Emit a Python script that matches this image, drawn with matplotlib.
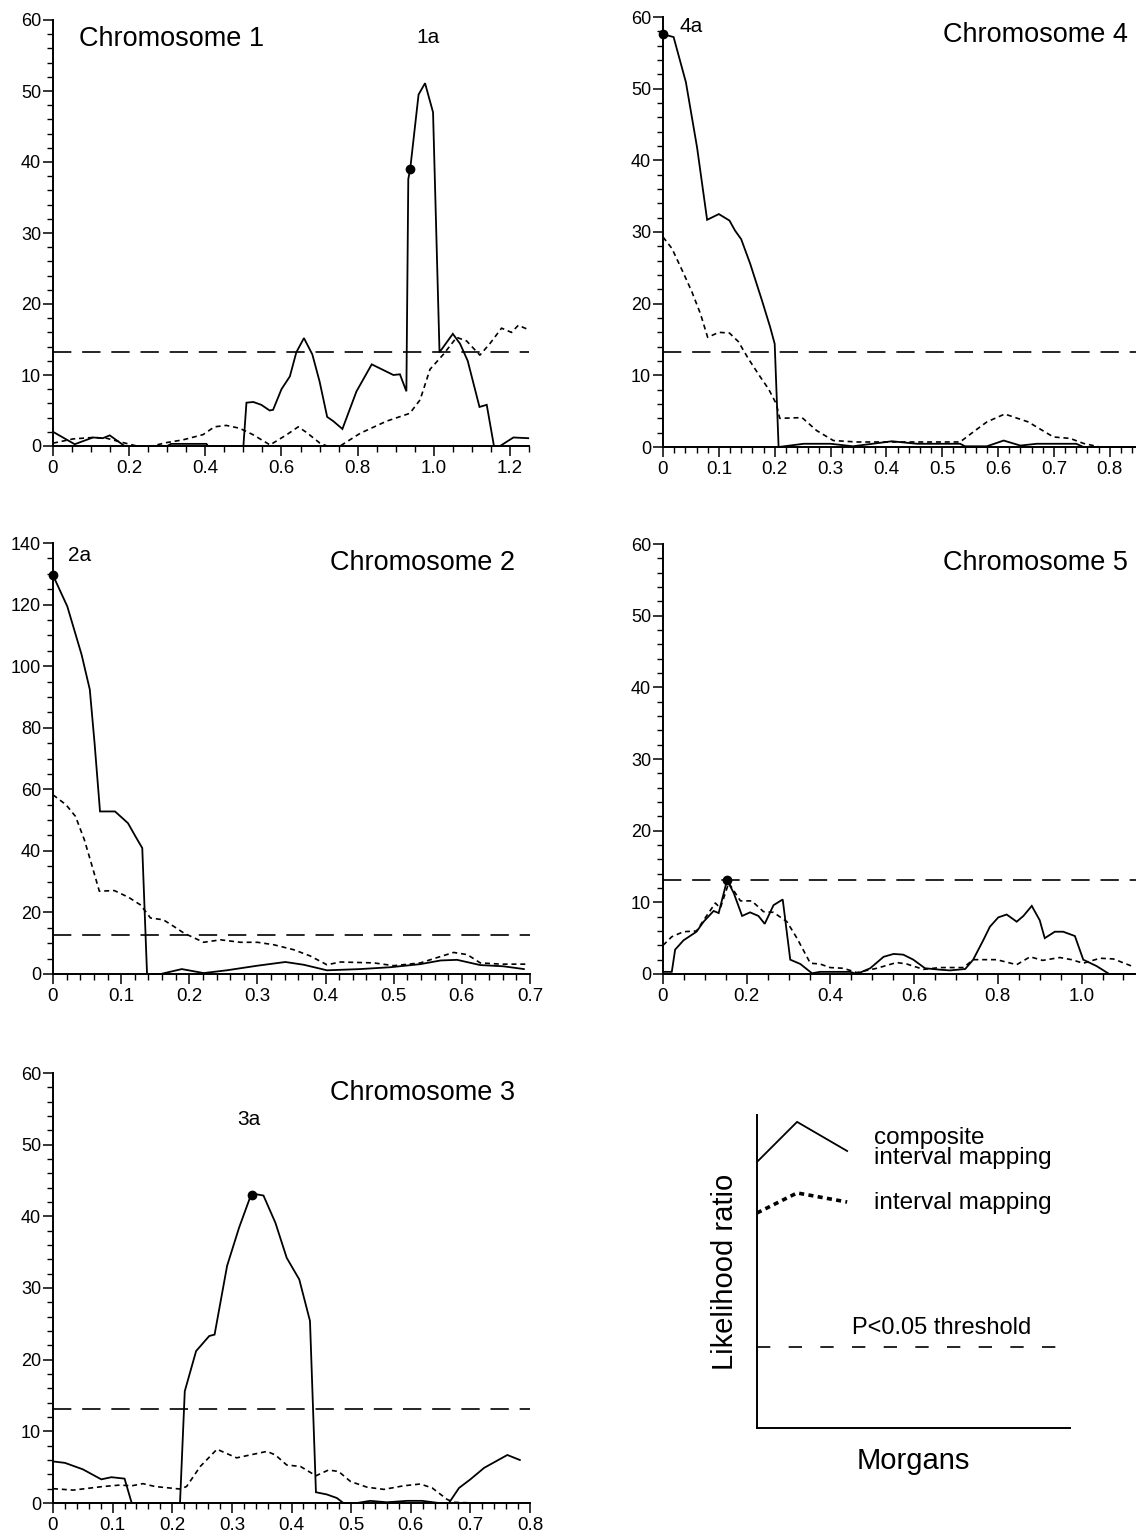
import matplotlib
matplotlib.use("Agg")
import matplotlib.pyplot as plt
from matplotlib.ticker import MultipleLocator, FuncFormatter

plt.rcParams['font.family'] = ['Liberation Sans', 'DejaVu Sans']

# ---- data (Morgans, likelihood ratio) ----
chr1_cim_x = [0, 0.057, 0.105, 0.131, 0.149, 0.188, 0.30, 0.31, 0.403, 0.407, 0.50, 0.508, 0.526,
              0.547, 0.569, 0.578, 0.60, 0.622, 0.639, 0.659, 0.681, 0.70, 0.72, 0.736, 0.76,
              0.797, 0.837, 0.894, 0.911, 0.928, 0.933, 0.938, 0.960, 0.977, 0.998, 1.015, 1.05,
              1.069, 1.089, 1.12, 1.139, 1.158, 1.174, 1.209, 1.248]
chr1_cim_y = [2.0, 0.25, 1.2, 1.1, 1.5, 0, 0, 0.3, 0.3, 0, 0, 6.1, 6.2,
              5.8, 5.0, 5.1, 8.0, 9.8, 13.2, 15.2, 12.9, 9.1, 4.1, 3.5, 2.4,
              7.7, 11.5, 10.0, 10.1, 7.7, 37.6, 39.0, 49.5, 51.1, 47.0, 13.2, 15.8,
              14.4, 12.0, 5.5, 5.8, 0, 0, 1.2, 1.1]
chr1_im_x = [0, 0.053, 0.105, 0.14, 0.175, 0.22, 0.26, 0.30, 0.34, 0.394, 0.424, 0.455, 0.49,
             0.525, 0.57, 0.614, 0.644, 0.666, 0.701, 0.72, 0.754, 0.807, 0.876, 0.937, 0.964,
             0.99, 1.025, 1.06, 1.086, 1.121, 1.147, 1.178, 1.204, 1.222, 1.248]
chr1_im_y = [0.4, 1.0, 1.2, 1.1, 0.6, 0, 0, 0.5, 0.85, 1.6, 2.7, 2.9, 2.5,
             1.6, 0.15, 1.6, 2.7, 1.9, 0.4, 0, 0, 1.8, 3.5, 4.6, 6.5,
             10.8, 12.9, 15.3, 14.8, 12.8, 14.4, 16.6, 16.0, 17.0, 16.4]

chr4_cim_x = [0, 0.019, 0.041, 0.061, 0.079, 0.10, 0.119, 0.129, 0.14, 0.156, 0.177, 0.192, 0.20,
              0.207, 0.252, 0.30, 0.34, 0.41, 0.455, 0.532, 0.541, 0.58, 0.61, 0.64, 0.669,
              0.74, 0.753, 0.847]
chr4_cim_y = [57.6, 57.2, 50.9, 41.8, 31.7, 32.5, 31.6, 30.2, 29.0, 25.6, 20.5, 16.7, 14.4,
              0, 0.45, 0.45, 0.1, 0.8, 0.45, 0.45, 0.1, 0.1, 0.9, 0.2, 0.45,
              0.45, 0, 0]
chr4_im_x = [0, 0.016, 0.037, 0.052, 0.067, 0.08, 0.10, 0.119, 0.135, 0.153, 0.174, 0.189, 0.203,
             0.209, 0.249, 0.275, 0.305, 0.347, 0.407, 0.532, 0.559, 0.58, 0.612, 0.654, 0.699,
             0.729, 0.753, 0.782, 0.847]
chr4_im_y = [29.3, 27.7, 24.2, 21.6, 18.6, 15.3, 16.0, 15.9, 14.7, 12.3, 9.8, 8.1, 6.0,
             4.0, 4.1, 2.3, 0.9, 0.7, 0.7, 0.7, 2.3, 3.5, 4.6, 3.5, 1.4,
             1.2, 0.5, 0, 0]

chr2_cim_x = [0, 0.021, 0.042, 0.054, 0.061, 0.069, 0.091, 0.11, 0.121, 0.131, 0.138, 0.158,
              0.189, 0.221, 0.255, 0.30, 0.341, 0.368, 0.402, 0.451, 0.495, 0.539, 0.569, 0.593,
              0.627, 0.661, 0.691]
chr2_cim_y = [129.5, 119.4, 103.7, 92.4, 75.0, 52.8, 52.8, 49.0, 44.7, 40.9, 0, 0,
              1.6, 0.3, 1.2, 2.7, 3.9, 3.0, 1.2, 1.6, 2.2, 3.2, 4.4, 4.6,
              2.9, 2.5, 1.6]
chr2_im_x = [0, 0.019, 0.033, 0.046, 0.056, 0.068, 0.09, 0.111, 0.128, 0.137, 0.143, 0.162,
             0.177, 0.192, 0.221, 0.246, 0.275, 0.30, 0.324, 0.353, 0.377, 0.402, 0.422, 0.471,
             0.50, 0.539, 0.569, 0.588, 0.608, 0.627, 0.658, 0.695]
chr2_im_y = [58.2, 55.0, 51.2, 43.6, 36.1, 26.9, 27.1, 24.9, 22.5, 20.0, 18.2, 17.6,
             15.5, 13.3, 10.3, 11.1, 10.3, 10.3, 9.5, 7.9, 5.9, 3.0, 3.9, 3.6,
             2.7, 3.6, 5.7, 7.0, 6.3, 3.6, 3.2, 3.2]

chr5_cim_x = [0, 0.021, 0.029, 0.049, 0.08, 0.097, 0.121, 0.133, 0.153, 0.169, 0.189, 0.208,
              0.228, 0.243, 0.264, 0.286, 0.304, 0.328, 0.356, 0.375, 0.447, 0.463, 0.495,
              0.527, 0.551, 0.574, 0.598, 0.626, 0.662, 0.686, 0.722, 0.741, 0.765, 0.781,
              0.801, 0.821, 0.845, 0.861, 0.881, 0.90, 0.912, 0.936, 0.956, 0.984, 1.004,
              1.036, 1.066, 1.13]
chr5_cim_y = [0.3, 0.3, 3.4, 4.7, 5.9, 7.3, 8.8, 8.5, 13.1, 11.3, 8.1, 8.6,
              8.1, 7.0, 9.6, 10.4, 2.0, 1.4, 0.1, 0.3, 0.3, 0, 0.8,
              2.4, 2.8, 2.7, 2.0, 0.8, 0.6, 0.5, 0.7, 2.0, 4.7, 6.6,
              7.9, 8.3, 7.3, 8.1, 9.5, 7.5, 5.0, 5.9, 5.9, 5.3, 2.0,
              1.1, 0, 0]
chr5_im_x = [0, 0.021, 0.049, 0.08, 0.097, 0.125, 0.137, 0.157, 0.185, 0.212, 0.24, 0.264,
             0.296, 0.32, 0.352, 0.375, 0.399, 0.431, 0.463, 0.511, 0.558, 0.582, 0.622,
             0.662, 0.718, 0.741, 0.797, 0.845, 0.877, 0.907, 0.948, 0.976, 1.004, 1.044,
             1.076, 1.12]
chr5_im_y = [4.0, 5.2, 5.9, 6.0, 7.5, 9.9, 9.2, 12.7, 10.2, 10.2, 8.7, 8.6,
             7.3, 5.0, 1.5, 1.4, 0.9, 0.8, 0.2, 0.8, 1.6, 1.4, 0.65,
             0.9, 0.9, 2.0, 2.0, 1.3, 2.4, 1.9, 2.3, 2.0, 1.5, 2.2,
             2.1, 1.1]

chr3_cim_x = [0, 0.02, 0.05, 0.081, 0.098, 0.12, 0.132, 0.213, 0.221, 0.24, 0.262, 0.271, 0.292,
              0.312, 0.333, 0.353, 0.373, 0.392, 0.413, 0.431, 0.441, 0.459, 0.476, 0.487,
              0.51, 0.532, 0.56, 0.594, 0.619, 0.647, 0.664, 0.681, 0.70, 0.723, 0.762, 0.783]
chr3_cim_y = [5.8, 5.6, 4.7, 3.3, 3.6, 3.4, 0, 0, 15.6, 21.2, 23.3, 23.5, 33.1,
              38.4, 43.2, 42.9, 39.1, 34.2, 31.2, 25.4, 1.5, 1.2, 0.7, 0,
              0, 0.3, 0.1, 0.3, 0.3, 0, 0, 2.1, 3.3, 4.9, 6.7, 6.0]
chr3_im_x = [0, 0.034, 0.084, 0.112, 0.132, 0.151, 0.171, 0.213, 0.224, 0.247, 0.275, 0.308,
             0.336, 0.359, 0.373, 0.392, 0.415, 0.441, 0.462, 0.479, 0.499, 0.527, 0.555,
             0.588, 0.616, 0.636, 0.661, 0.672, 0.706, 0.74]
chr3_im_y = [2.0, 1.8, 2.3, 2.5, 2.4, 2.7, 2.3, 1.95, 2.3, 5.1, 7.5, 6.3,
             6.8, 7.2, 6.7, 5.3, 5.1, 3.8, 4.6, 4.4, 3.0, 2.2, 1.9,
             2.4, 2.65, 2.1, 0.5, 0.1, 0, 0]

thresholds = {'1': 13.3, '4': 13.2, '2': 12.7, '5': 13.1, '3': 13.1}
peaks = {'1': (0.938, 39.0), '4': (0.0, 57.6), '2': (0.0, 129.5), '5': (0.153, 13.1), '3': (0.333, 43.0)}
qtl_labels = {'1': ('1a', 0.985, 57.5), '4': ('4a', 0.05, 58.7), '2': ('2a', 0.039, 135.8),
              '3': ('3a', 0.329, 53.5)}

# legend sketch (arbitrary units 0-100)
leg_cim_x = [0, 12.8, 28.8]
leg_cim_y = [85, 97.8, 88.5]
leg_im_x = [0, 12.8, 28.8]
leg_im_y = [68.7, 75.1, 72.2]
leg_thr = 25.9

W, H = 1136, 1536
fig = plt.figure(figsize=(W / 100, H / 100), dpi=100)


def px_axes(left, top, right, bottom):
    return fig.add_axes([left / W, 1 - bottom / H, (right - left) / W, (bottom - top) / H])


def fmt_x(v, pos):
    return '0' if abs(v) < 1e-9 else '%.1f' % v


def panel(box, key, cx, cy, ix, iy, xmax, ymax, xmaj, xmin, ymaj, ymin, title, title_xy, title_ha):
    ax = px_axes(*box)
    ax.plot(cx, cy, color='black', lw=1.3, solid_joinstyle='miter', clip_on=False, zorder=3)
    ax.plot(ix, iy, color='black', lw=1.2, dashes=(3.0, 2.3), clip_on=False, zorder=2)
    ax.axhline(thresholds[key], color='black', lw=1.2, dashes=(11, 6.5), zorder=1)
    px, py = peaks[key]
    ax.plot([px], [py], 'o', color='black', ms=6, clip_on=False, zorder=4)
    ax.set_xlim(0, xmax)
    ax.set_ylim(0, ymax)
    for s in ['top', 'right']:
        ax.spines[s].set_visible(False)
    for s in ['left', 'bottom']:
        ax.spines[s].set_linewidth(1.4)
    ax.xaxis.set_major_locator(MultipleLocator(xmaj))
    ax.xaxis.set_minor_locator(MultipleLocator(xmin))
    ax.yaxis.set_major_locator(MultipleLocator(ymaj))
    ax.yaxis.set_minor_locator(MultipleLocator(ymin))
    ax.xaxis.set_major_formatter(FuncFormatter(fmt_x))
    ax.tick_params(which='major', direction='out', length=7, width=1.1)
    ax.tick_params(which='minor', direction='out', length=4, width=1.0)
    ax.tick_params(axis='x', labelsize=13.5, pad=3)
    ax.tick_params(axis='y', labelsize=13, pad=1.5)
    ax.text(title_xy[0], title_xy[1], title, fontsize=19.5, ha=title_ha, va='center')
    if key in qtl_labels:
        lab, lx, ly = qtl_labels[key]
        ax.text(lx, ly, lab, fontsize=15, ha='center', va='center')
    return ax


panel((53, 20, 529, 446), '1', chr1_cim_x, chr1_cim_y, chr1_im_x, chr1_im_y, 1.25, 60,
      0.2, 0.05, 10, 2, 'Chromosome 1', (0.068, 57.3), 'left')
panel((663, 17, 1136, 447), '4', chr4_cim_x, chr4_cim_y, chr4_im_x, chr4_im_y, 0.847, 60,
      0.1, 0.02, 10, 2, 'Chromosome 4', (0.833, 57.5), 'right')
panel((53, 543, 530, 974), '2', chr2_cim_x, chr2_cim_y, chr2_im_x, chr2_im_y, 0.7, 140,
      0.1, 0.02, 20, 5, 'Chromosome 2', (0.678, 133.5), 'right')
panel((663, 544, 1136, 974), '5', chr5_cim_x, chr5_cim_y, chr5_im_x, chr5_im_y, 1.13, 60,
      0.2, 0.05, 10, 2, 'Chromosome 5', (1.111, 57.4), 'right')
panel((53, 1073, 530, 1503), '3', chr3_cim_x, chr3_cim_y, chr3_im_x, chr3_im_y, 0.8, 60,
      0.1, 0.02, 10, 2, 'Chromosome 3', (0.775, 57.2), 'right')

# legend sketch panel
lg = px_axes(757, 1115, 1070, 1428)
lg.set_xlim(0, 100)
lg.set_ylim(0, 100)
lg.plot(leg_cim_x, leg_cim_y, color='black', lw=1.3, clip_on=False)
lg.plot(leg_im_x, leg_im_y, color='black', lw=2.6, dashes=(1.4, 1.2), clip_on=False)
lg.axhline(leg_thr, color='black', lw=1.2, dashes=(8, 11))
for s in ['top', 'right']:
    lg.spines[s].set_visible(False)
for s in ['left', 'bottom']:
    lg.spines[s].set_linewidth(1.4)
lg.set_xticks([])
lg.set_yticks([])
lg.text(37.4, 89.5, 'composite\ninterval mapping', fontsize=17.5, ha='left', va='center',
        linespacing=0.85)
lg.text(37.4, 71.9, 'interval mapping', fontsize=17.5, ha='left', va='center')
lg.text(30.4, 32.0, 'P<0.05 threshold', fontsize=17, ha='left', va='center')
lg.text(-10.2, 50, 'Likelihood ratio', fontsize=21, ha='center', va='center', rotation=90)
lg.text(49.8, -10.5, 'Morgans', fontsize=21, ha='center', va='center')

fig.savefig('out.png', dpi=100)
